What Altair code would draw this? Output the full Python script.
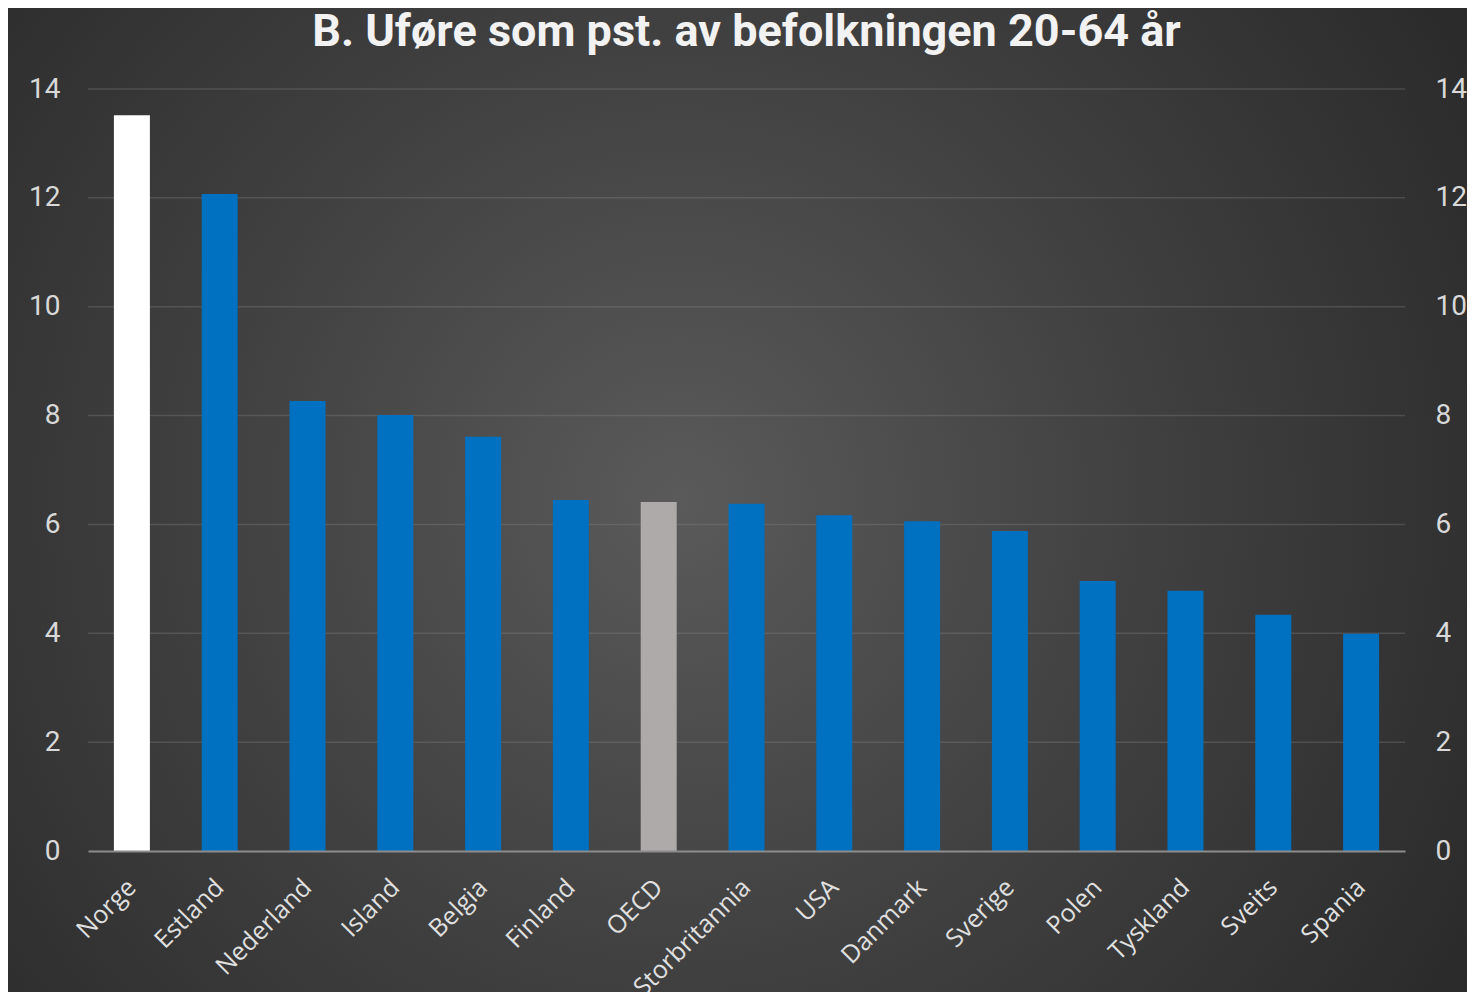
import altair as alt
import pandas as pd

countries = ["Norge", "Estland", "Nederland", "Island", "Belgia", "Finland", "OECD",
             "Storbritannia", "USA", "Danmark", "Sverige", "Polen", "Tyskland", "Sveits", "Spania"]
values = [13.52, 12.07, 8.27, 8.01, 7.61, 6.45, 6.41, 6.38, 6.17, 6.06, 5.88, 4.96, 4.78, 4.34, 3.99]
grid_ticks = [2, 4, 6, 8, 10, 12, 14]
axis_ticks = [0, 2, 4, 6, 8, 10, 12, 14]
title_text = ["B. Uføre som pst. av befolkningen 20-64 år"]

groups = ["Norge" if c == "Norge" else ("OECD" if c == "OECD" else "Land") for c in countries]
df = pd.DataFrame({"land": countries, "verdi": values, "gruppe": groups})
grid_df = pd.DataFrame({"y": grid_ticks})
one = pd.DataFrame({"a": [0]})
title_df = pd.DataFrame({"t": title_text})

W, H = 1317, 762
PL, PT, PR, PB = 80, 81, 62, 141

narrow = "Roboto, Liberation Sans Narrow, sans-serif"
label_color = "#d9d9d9"
yscale = alt.Scale(domain=[0, 14], nice=False, zero=True)

bg = alt.Chart(one).mark_rect(
    fill=alt.RadialGradient(
        gradient="radial",
        x1=0.46, y1=0.5, r1=0.0,
        x2=0.46, y2=0.5, r2=0.72,
        stops=[alt.GradientStop(color="#5a5a5a", offset=0),
               alt.GradientStop(color="#404040", offset=0.45),
               alt.GradientStop(color="#242424", offset=1)],
    )
).encode(
    x=alt.value(-PL), x2=alt.value(W + PR),
    y=alt.value(-PT), y2=alt.value(H + PB),
)

title = alt.Chart(title_df).mark_text(
    font=narrow, fontSize=45, fontWeight="bold", color="#f2f2f2",
    align="center", baseline="alphabetic",
).encode(x=alt.value(W / 2), y=alt.value(-43), text="t:N")

grid = alt.Chart(grid_df).mark_rule(color="#8a8a8a", opacity=0.3, strokeWidth=1.5).encode(
    y=alt.Y("y:Q", scale=yscale,
            axis=alt.Axis(orient="right", values=axis_ticks, grid=False, domain=False, ticks=False,
                          labelPadding=30, labelFontSize=28, labelFont=narrow, labelColor=label_color,
                          labelAlign="left", labelBaseline="middle", title=None, zindex=1))
)

bars = alt.Chart(df).mark_bar().encode(
    x=alt.X("land:N", sort=countries,
            scale=alt.Scale(paddingInner=0.59, paddingOuter=0.295),
            axis=alt.Axis(labelAngle=-45, labelFontSize=25, labelFont="Open Sans, Noto Sans, sans-serif",
                          labelColor="#e0e0e0", labelPadding=32, ticks=False, domain=True,
                          domainColor="#8c8c8c", domainWidth=2, title=None, grid=False, zindex=1,
                          labelAlign="right", labelBaseline="middle")),
    y=alt.Y("verdi:Q", scale=yscale,
            axis=alt.Axis(orient="left", values=axis_ticks, grid=False, domain=False, ticks=False,
                          labelPadding=28, labelFontSize=28, labelFont=narrow, labelColor=label_color,
                          title=None, zindex=1)),
    color=alt.Color("gruppe:N",
                    scale=alt.Scale(domain=["Norge", "OECD", "Land"],
                                    range=["#FFFFFF", "#AEAAAA", "#0070C0"]),
                    legend=None),
)

chart = alt.layer(bg, grid, bars, title).resolve_scale(y="shared").resolve_axis(y="independent").properties(
    width=W, height=H,
    autosize=alt.AutoSizeParams(type="none"),
    padding={"left": PL, "top": PT, "right": PR, "bottom": PB},
    background="#2a2a2a",
).configure_view(stroke=None)

chart.save("out.html", embed_options={"renderer": "svg", "actions": False})
